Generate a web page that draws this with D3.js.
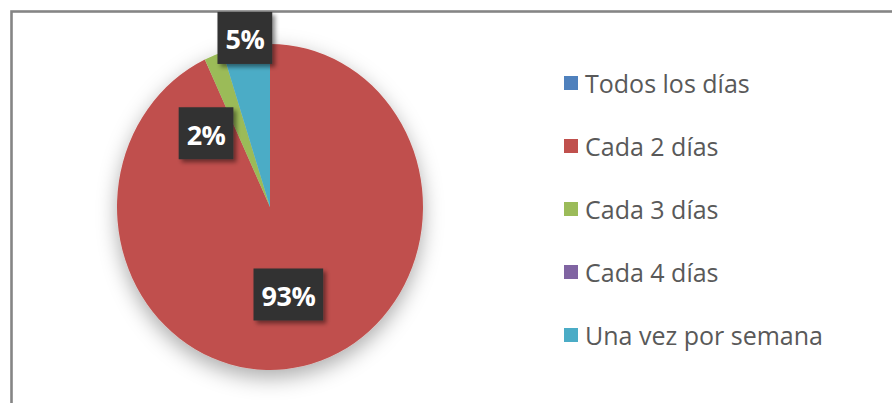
<!DOCTYPE html>
<html>
<head>
<meta charset="utf-8">
<script src="https://cdn.jsdelivr.net/npm/d3@7/dist/d3.min.js"></script>
<style>
  html, body { margin: 0; padding: 0; background: #ffffff; }
  svg { display: block; }
</style>
</head>
<body>
<svg id="chart" width="892" height="403"></svg>
<script>
// Frequency categories and their shares (percent)
const categories = ["Todos los días", "Cada 2 días", "Cada 3 días", "Cada 4 días", "Una vez por semana"];
const values = [0, 93, 2, 0, 5];
const valueLabels = ["0%", "93%", "2%", "0%", "5%"];
const colors = ["#4F81BD", "#C0504D", "#9BBB59", "#8064A2", "#4BACC6"];
// How each data label sits relative to its slice
const labelModes = ["inside", "inside", "beside", "inside", "outsideEnd"];

const W = 892, H = 403;
const svg = d3.select("#chart");
const defs = svg.append("defs");

// soft halo under the pie
const pieShadow = defs.append("filter").attr("id", "pieShadow")
  .attr("x", "-30%").attr("y", "-30%").attr("width", "160%").attr("height", "160%");
pieShadow.append("feDropShadow").attr("dx", 0).attr("dy", 7)
  .attr("stdDeviation", 10).attr("flood-color", "#000").attr("flood-opacity", 0.33);

// small hard shadow under the label boxes
const boxShadow = defs.append("filter").attr("id", "boxShadow")
  .attr("x", "-30%").attr("y", "-30%").attr("width", "160%").attr("height", "160%");
boxShadow.append("feDropShadow").attr("dx", 3).attr("dy", 3)
  .attr("stdDeviation", 2).attr("flood-color", "#000").attr("flood-opacity", 0.45);

// chart frame
svg.append("rect")
  .attr("x", 11.5).attr("y", 11.5)
  .attr("width", W).attr("height", H)
  .attr("fill", "#fff")
  .attr("stroke", "#858585").attr("stroke-width", 2.6);

// pie geometry (drawn slightly taller than wide)
const cx = 270, cy = 207, rx = 153, ry = 163;
const R = rx;
const sy = ry / rx;

const pie = d3.pie().sort(null).value(d => d.value);
const arcs = pie(categories.map((c, i) => ({ name: c, value: values[i], i })));
const arc = d3.arc().innerRadius(0).outerRadius(R);

const pieG = svg.append("g")
  .attr("transform", `translate(${cx},${cy})`);
const sliceG = pieG.append("g")
  .attr("transform", `scale(1,${sy})`)
  .attr("filter", "url(#pieShadow)");

sliceG.selectAll("path")
  .data(arcs.filter(d => d.value > 0))
  .join("path")
  .attr("d", arc)
  .attr("fill", d => colors[d.data.i]);

// point on the (stretched) pie at a given angle and radius fraction
function polar(angle, frac) {
  return [Math.sin(angle) * frac * rx, -Math.cos(angle) * frac * ry];
}

// data labels: dark boxes with white bold text
const labelG = pieG.append("g");
const boxH = 52, padX = 8;
arcs.filter(d => d.value > 0).forEach(d => {
  const i = d.data.i;
  const g = labelG.append("g");
  const rectSel = g.append("rect").attr("fill", "#333333").attr("filter", "url(#boxShadow)");
  const t = g.append("text")
    .attr("text-anchor", "middle")
    .attr("dominant-baseline", "central")
    .attr("font-family", "'Open Sans', 'DejaVu Sans', sans-serif")
    .attr("font-weight", 700)
    .attr("font-size", 27)
    .attr("letter-spacing", -0.5)
    .attr("fill", "#ffffff")
    .text(valueLabels[i]);
  const tw = t.node().getComputedTextLength();
  const bw = tw + padX * 2;

  let x, y;
  const mid = (d.startAngle + d.endAngle) / 2;
  if (labelModes[i] === "outsideEnd") {
    [x, y] = polar(mid, 1.05);
  } else if (labelModes[i] === "beside") {
    const [bx, by] = polar(d.startAngle, 0.5);
    x = bx - 4 - bw / 2;
    y = by;
  } else {
    [x, y] = polar(mid, 0.55);
  }
  rectSel.attr("x", x - bw / 2).attr("y", y - boxH / 2)
    .attr("width", bw).attr("height", boxH);
  t.attr("x", x).attr("y", y + 1);
});

// legend
const legendY = d3.scalePoint().domain(categories).range([83, 335]);
const legend = svg.append("g");
categories.forEach((c, i) => {
  const y = legendY(c);
  legend.append("rect")
    .attr("x", 564).attr("y", y - 7)
    .attr("width", 14).attr("height", 14)
    .attr("fill", colors[i]);
  legend.append("text")
    .attr("x", 585).attr("y", y)
    .attr("dominant-baseline", "central")
    .attr("font-family", "'Open Sans', 'DejaVu Sans', sans-serif")
    .attr("font-size", 25)
    .attr("fill", "#595959")
    .text(c);
});
</script>
</body>
</html>
